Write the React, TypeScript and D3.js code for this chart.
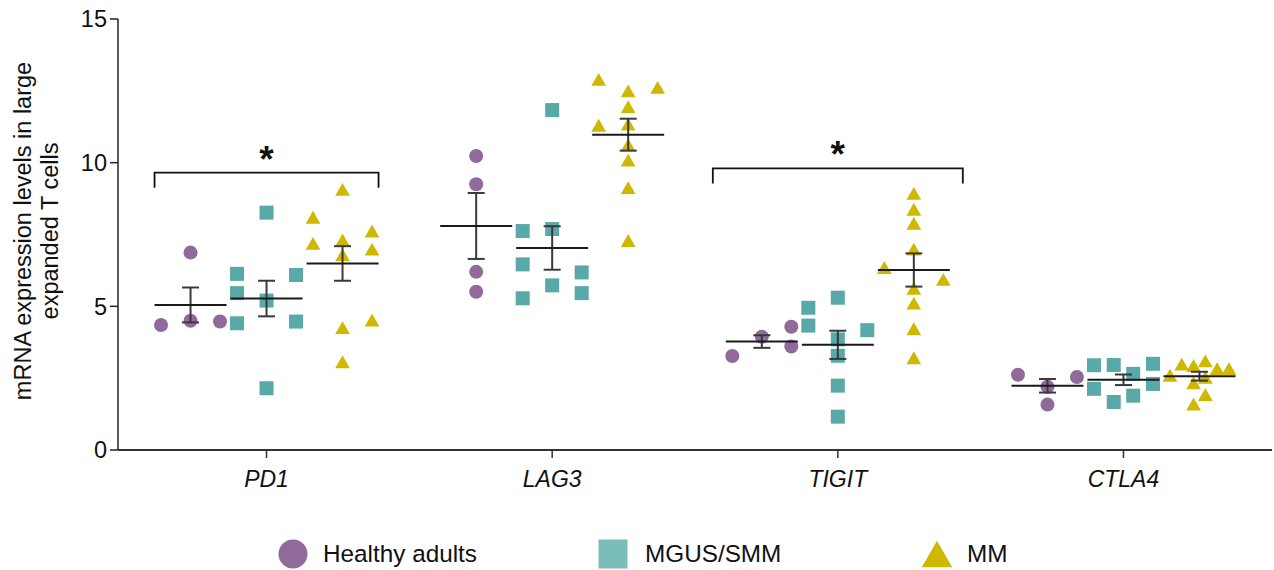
import React from "react";
import * as d3 from "d3";

const categories = ["PD1", "LAG3", "TIGIT", "CTLA4"];
const groups = ["Healthy adults", "MGUS/SMM", "MM"];
const yTicks = [0, 5, 10, 15];

// values per category (PD1, LAG3, TIGIT, CTLA4)
const healthyValues = [
  [6.87, 4.35, 4.5, 4.47],
  [10.23, 9.25, 6.2, 5.51],
  [3.27, 3.94, 4.29, 3.6],
  [2.62, 2.2, 2.54, 1.58],
];
const healthyJitter = [
  [0, -1, 0, 1],
  [0, 0, 0, 0],
  [-1, 0, 1, 1],
  [-1, 0, 1, 0],
];
const mgusValues = [
  [8.26, 6.13, 5.46, 5.2, 4.41, 6.09, 4.47, 2.15],
  [11.83, 7.62, 7.69, 6.46, 6.18, 5.73, 5.28, 5.46],
  [4.95, 4.33, 5.3, 4.17, 3.85, 3.28, 2.24, 1.16],
  [2.95, 2.96, 3.0, 2.65, 2.13, 2.3, 1.89, 1.67],
];
const mgusJitter = [
  [0, -1, -1, 0, -1, 1, 1, 0],
  [0, -1, 0, -1, 1, 0, -1, 1],
  [-1, -1, 0, 1, 0, 0, 0, 0],
  [-1, -0.33, 1, 0.33, -1, 1, 0.33, -0.33],
];
const mmValues = [
  [9.07, 8.1, 7.62, 7.19, 7.31, 6.79, 6.99, 4.52, 4.26, 3.07],
  [12.9, 12.5, 12.62, 11.95, 11.3, 11.34, 10.62, 10.09, 9.13, 7.29],
  [8.93, 8.38, 7.89, 6.99, 6.35, 5.94, 5.63, 5.11, 4.22, 3.21],
  [2.6, 2.99, 2.94, 3.1, 2.83, 2.83, 2.34, 2.53, 1.93, 1.6],
];
const mmJitter = [
  [0, -1, 1, -1, 0, 0, 1, 1, 0, 0],
  [-1, 0, 1, 0, -1, 0, 0, 0, 0, 0],
  [0, 0, 0, 0, -1, 1, 0, 0, 0, 0],
  [-1, -0.6, -0.2, 0.2, 0.6, 1, -0.2, 0.2, 0.2, -0.2],
];

// significance brackets
const brackets = [
  { cat: "PD1", y: 9.65, extra: 0, label: "*" },
  { cat: "TIGIT", y: 9.8, extra: 13, label: "*" },
];

const W = 1274;
const H = 570;
const FONT = "'Liberation Sans', Arial, Helvetica, sans-serif";
const colors = ["#8f6a9b", "#58a9a8", "#cfb900"];
const legendColors = ["#8f6a9b", "#7bbdb8", "#cfb900"];

const x = d3.scalePoint<string>().domain(categories).range([118, 1272]).padding(0.52);
const y = d3.scaleLinear().domain([0, 15]).range([450, 19]);
const groupOffset = d3.scalePoint<number>().domain([0, 1, 2]).range([-76, 76]);
const colUnit = 29.5;
const halfMean = 36;
const capHalf = 8.5;

function Marker({ g, cx, cy, fill, s }: { g: number; cx: number; cy: number; fill: string; s: number }) {
  if (g === 0) return <circle cx={cx} cy={cy} r={s / 2} fill={fill} />;
  if (g === 1) return <rect x={cx - s / 2} y={cy - s / 2} width={s} height={s} fill={fill} />;
  const h = s * 0.92;
  const w = s * 1.05;
  return (
    <path
      d={`M${cx},${cy - h / 2}L${cx + w / 2},${cy + h / 2}L${cx - w / 2},${cy + h / 2}Z`}
      fill={fill}
    />
  );
}

export default function App() {
  const allValues = [healthyValues, mgusValues, mmValues];
  const allJitter = [healthyJitter, mgusJitter, mmJitter];

  const points: React.ReactNode[] = [];
  const stats: React.ReactNode[] = [];
  categories.forEach((cat, ci) => {
    groups.forEach((_, gi) => {
      const vals = allValues[gi][ci];
      const jit = allJitter[gi][ci];
      const gx = (x(cat) as number) + (groupOffset(gi) as number);
      vals.forEach((v, i) => {
        points.push(
          <Marker key={`p-${ci}-${gi}-${i}`} g={gi} cx={gx + jit[i] * colUnit} cy={y(v)} fill={colors[gi]} s={14} />
        );
      });
      const m = d3.mean(vals) as number;
      const sem = (d3.deviation(vals) as number) / Math.sqrt(vals.length);
      stats.push(
        <g key={`s-${ci}-${gi}`}>
          <line x1={gx} x2={gx} y1={y(m + sem)} y2={y(m - sem)} stroke="#3a3a3a" strokeWidth={2} />
          <line x1={gx - capHalf} x2={gx + capHalf} y1={y(m + sem)} y2={y(m + sem)} stroke="#3a3a3a" strokeWidth={2} />
          <line x1={gx - capHalf} x2={gx + capHalf} y1={y(m - sem)} y2={y(m - sem)} stroke="#3a3a3a" strokeWidth={2} />
          <line x1={gx - halfMean} x2={gx + halfMean} y1={y(m)} y2={y(m)} stroke="#1a1a1a" strokeWidth={2} />
        </g>
      );
    });
  });

  return (
    <svg width={W} height={H} style={{ position: "absolute", left: 0, top: 0, background: "#fff" }} fontFamily={FONT}>
      {/* y axis */}
      <line x1={118} x2={118} y1={y(15)} y2={y(0)} stroke="#222" strokeWidth={1.5} />
      {yTicks.map((t) => (
        <g key={`yt-${t}`}>
          <line x1={110} x2={118} y1={y(t)} y2={y(t)} stroke="#222" strokeWidth={1.5} />
          <text x={107} y={y(t)} dy="0.36em" textAnchor="end" fontSize={23.5} fill="#111">
            {t}
          </text>
        </g>
      ))}
      {/* x axis */}
      <line x1={118} x2={1272} y1={y(0)} y2={y(0)} stroke="#333" strokeWidth={1.8} />
      {categories.map((c) => (
        <g key={`xt-${c}`}>
          <line x1={x(c)} x2={x(c)} y1={y(0)} y2={y(0) + 8} stroke="#333" strokeWidth={1.5} />
          <text x={x(c)} y={487} textAnchor="middle" fontSize={23} fontStyle="italic" fill="#111">
            {c}
          </text>
        </g>
      ))}
      {/* y label */}
      <g transform={`translate(0,231) rotate(-90)`}>
        <text x={0} y={31} textAnchor="middle" fontSize={23.5} fill="#111">
          mRNA expression levels in large
        </text>
        <text x={0} y={58} textAnchor="middle" fontSize={23.5} fill="#111">
          expanded T cells
        </text>
      </g>

      {points}
      {stats}

      {/* brackets */}
      {brackets.map((b) => {
        const cx = x(b.cat) as number;
        const x1 = cx + (groupOffset(0) as number) - halfMean - b.extra;
        const x2 = cx + (groupOffset(2) as number) + halfMean + b.extra;
        const yt = y(b.y);
        return (
          <g key={`br-${b.cat}`}>
            <path d={`M${x1},${yt + 15}V${yt}H${x2}V${yt + 15}`} fill="none" stroke="#111" strokeWidth={1.8} />
            <text x={cx} y={yt - 1} textAnchor="middle" fontSize={37} fontWeight="bold" fill="#111">
              {b.label}
            </text>
          </g>
        );
      })}

      {/* legend */}
      {groups.map((g, gi) => {
        const lx = [293, 613, 937][gi];
        const tx = [323, 645, 967][gi];
        return (
          <g key={`lg-${gi}`}>
            <Marker g={gi} cx={lx} cy={554} fill={legendColors[gi]} s={29} />
            <text x={tx} y={562} fontSize={24.3} fill="#111">
              {g}
            </text>
          </g>
        );
      })}
    </svg>
  );
}
